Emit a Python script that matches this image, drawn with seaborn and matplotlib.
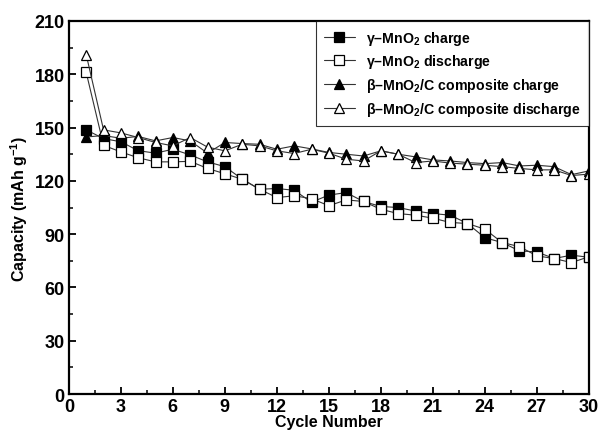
import matplotlib
matplotlib.use("Agg")
import matplotlib.pyplot as plt
import seaborn as sns
import pandas as pd
from matplotlib.ticker import MultipleLocator

cycles = list(range(1, 31))
gamma_charge = [148.7, 143.8, 142.0, 137.0, 135.6, 137.8, 134.6, 130.7, 128.0, 121.0,
                115.3, 115.7, 114.7, 108.0, 112.0, 113.4, 108.4, 105.6, 105.0, 103.0,
                101.6, 100.7, 96.0, 88.0, 85.3, 80.6, 80.0, 76.3, 78.2, 77.0]
gamma_discharge = [181.0, 140.0, 136.3, 133.0, 130.7, 130.7, 131.0, 127.0, 124.0, 120.9,
                   115.3, 110.6, 111.6, 110.0, 106.0, 109.3, 108.4, 104.0, 101.6, 100.7,
                   99.0, 96.6, 96.0, 92.8, 85.3, 83.0, 77.8, 76.3, 74.0, 77.3]
beta_charge = [144.7, 145.5, 144.0, 145.0, 142.5, 144.4, 142.5, 135.6, 141.6, 141.0,
               140.6, 137.8, 139.7, 138.0, 136.0, 135.0, 134.0, 136.9, 135.0, 133.5,
               131.8, 131.2, 130.3, 129.7, 130.3, 128.4, 128.8, 128.0, 123.5, 125.6]
beta_discharge = [191.0, 148.7, 147.0, 144.4, 141.6, 139.7, 144.4, 139.0, 136.9, 140.6,
                  139.7, 136.9, 135.4, 137.8, 135.6, 132.2, 131.2, 136.9, 135.0, 130.3,
                  131.2, 130.0, 129.4, 128.8, 128.0, 127.0, 126.2, 126.2, 123.0, 123.8]

labels = [r"γ–MnO$_2$ charge", r"γ–MnO$_2$ discharge",
          r"β–MnO$_2$/C composite charge", r"β–MnO$_2$/C composite discharge"]

sns.set_theme(style="ticks")
plt.rcParams['font.family'] = ['Liberation Sans', 'DejaVu Sans']
plt.rcParams['font.weight'] = 'bold'
plt.rcParams['text.color'] = 'black'
plt.rcParams['axes.labelcolor'] = 'black'
plt.rcParams['xtick.color'] = 'black'
plt.rcParams['ytick.color'] = 'black'
plt.rcParams['mathtext.fontset'] = 'custom'
plt.rcParams['mathtext.rm'] = 'Liberation Sans:bold'
plt.rcParams['mathtext.bf'] = 'Liberation Sans:bold'
plt.rcParams['mathtext.it'] = 'Liberation Sans:bold'
plt.rcParams['mathtext.default'] = 'rm'

fig = plt.figure(figsize=(5.99, 4.39), dpi=100)
ax = fig.add_axes([0.115, 0.1, 0.868, 0.85])

series = [
    (gamma_charge, 's', 'black', labels[0]),
    (gamma_discharge, 's', 'white', labels[1]),
    (beta_charge, '^', 'black', labels[2]),
    (beta_discharge, '^', 'white', labels[3]),
]
for vals, mk, fc, lab in series:
    df = pd.DataFrame({"Cycle": cycles, "Capacity": vals})
    sns.lineplot(data=df, x="Cycle", y="Capacity", ax=ax, color="#333333",
                 linewidth=0.8, marker=mk, markersize=7, markerfacecolor=fc,
                 markeredgecolor="black", markeredgewidth=0.9, label=lab)

ax.set_xlim(0, 30)
ax.set_ylim(0, 210)
ax.xaxis.set_major_locator(MultipleLocator(3))
ax.xaxis.set_minor_locator(MultipleLocator(1.5))
ax.yaxis.set_major_locator(MultipleLocator(30))
ax.yaxis.set_minor_locator(MultipleLocator(15))
ax.tick_params(which='major', direction='in', length=5, width=1.3, labelsize=13,
               top=False, right=False, pad=3)
ax.tick_params(which='minor', direction='in', length=3, width=1.1, top=False, right=False)
for lbl in ax.get_xticklabels() + ax.get_yticklabels():
    lbl.set_fontweight('bold')
for sp in ax.spines.values():
    sp.set_linewidth(1.6)
    sp.set_color('black')

ax.set_xlabel("Cycle Number", fontsize=11.5, fontweight='bold', labelpad=-1)
ax.set_ylabel("Capacity (mAh g$^{-1}$)", fontsize=11.5, fontweight='bold', labelpad=3)

leg = ax.legend(loc='upper right', fontsize=10.2, frameon=True, fancybox=False,
                edgecolor='black', handlelength=2.2, borderaxespad=0.0,
                borderpad=0.55, labelspacing=0.4)
leg.get_frame().set_linewidth(0.8)
for t in leg.get_texts():
    t.set_fontweight('bold')

fig.savefig("out.png", dpi=100)
